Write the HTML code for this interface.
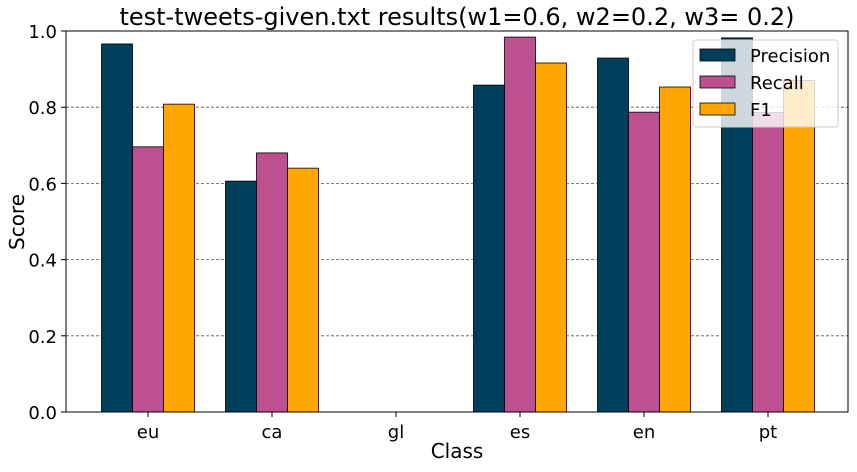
<!DOCTYPE html>
<html><head><meta charset="utf-8"><style>
body{margin:0;background:#fff;font-family:"Liberation Sans","DejaVu Sans",sans-serif;}
svg text{font-family:"DejaVu Sans","Liberation Sans",sans-serif;}
</style></head><body>
<svg id="chart" width="857" height="467" xmlns="http://www.w3.org/2000/svg">
<text x="457" y="25" font-size="24" text-anchor="middle">test-tweets-given.txt results(w1=0.6, w2=0.2, w3= 0.2)</text>
<g id="grid"></g><g id="bars"></g><g id="axes"></g><g id="legend"></g>
<text x="457" y="458" font-size="20" text-anchor="middle">Class</text>
<text transform="translate(24,222) rotate(-90)" font-size="20" text-anchor="middle">Score</text>
</svg>
<script>
const categories=["eu","ca","gl","es","en","pt"];
const precision=[0.966,0.606,0,0.858,0.929,0.982];
const recall=[0.696,0.680,0,0.984,0.787,0.786];
const f1=[0.808,0.640,0,0.916,0.853,0.870];
const yTicks=[0.0,0.2,0.4,0.6,0.8,1.0];
const seriesNames=["Precision","Recall","F1"];
const colors=["#003f5c","#bc5090","#ffa600"];
const NS="http://www.w3.org/2000/svg";
const L=66,R=848,T=31,B=412;
const y=v=>B-(v/1.0)*(B-T);
const groupW=124,x0=148-66;
const xc=i=>L+x0+i*groupW;
const bw=31;
function mk(tag,attrs,parent){const e=document.createElementNS(NS,tag);for(const k in attrs)e.setAttribute(k,attrs[k]);parent.appendChild(e);return e;}
const grid=document.getElementById('grid'),bars=document.getElementById('bars'),axes=document.getElementById('axes'),leg=document.getElementById('legend');
yTicks.forEach(t=>{
 if(t>0&&t<1){const g=mk('line',{x1:L,x2:R,y1:y(t),y2:y(t),stroke:'#555','stroke-width':0.8,'stroke-dasharray':'3,2'},grid);
 
 }
 mk('line',{x1:L-5,x2:L,y1:y(t),y2:y(t),stroke:'#000'},axes);
 const tx=mk('text',{x:L-9,y:y(t)+7,'font-size':18,'text-anchor':'end'},axes);tx.textContent=t.toFixed(1);
 
 
});
const series=[precision,recall,f1];
categories.forEach((c,i)=>{
 series.forEach((s,j)=>{
  if(s[i]<=0)return;
  const r=mk('rect',{x:xc(i)+(j-1.5)*bw,y:y(s[i]),width:bw,height:B-y(s[i]),fill:colors[j],stroke:'#000','stroke-width':0.8},bars);
  
  
 });
 mk('line',{x1:xc(i),x2:xc(i),y1:B,y2:B+5,stroke:'#000'},axes);
 const tx=mk('text',{x:xc(i),y:B+26,'font-size':18,'text-anchor':'middle'},axes);tx.textContent=c;
 
 
});
const fr=mk('rect',{x:L,y:T,width:R-L,height:B-T,fill:'none',stroke:'#000','stroke-width':1},axes);


const lb=mk('rect',{x:693,y:40,width:145,height:87,rx:3,fill:'#fff','fill-opacity':0.8,stroke:'#ccc'},leg);


seriesNames.forEach((n,j)=>{
 const yy=49+j*27;
 const sw=mk('rect',{x:700,y:yy,width:35,height:12,fill:colors[j],stroke:'#000','stroke-width':0.8},leg);
 
 
 const tx=mk('text',{x:750,y:yy+13,'font-size':18},leg);tx.textContent=n;
 
 
});
</script>
</body></html>
